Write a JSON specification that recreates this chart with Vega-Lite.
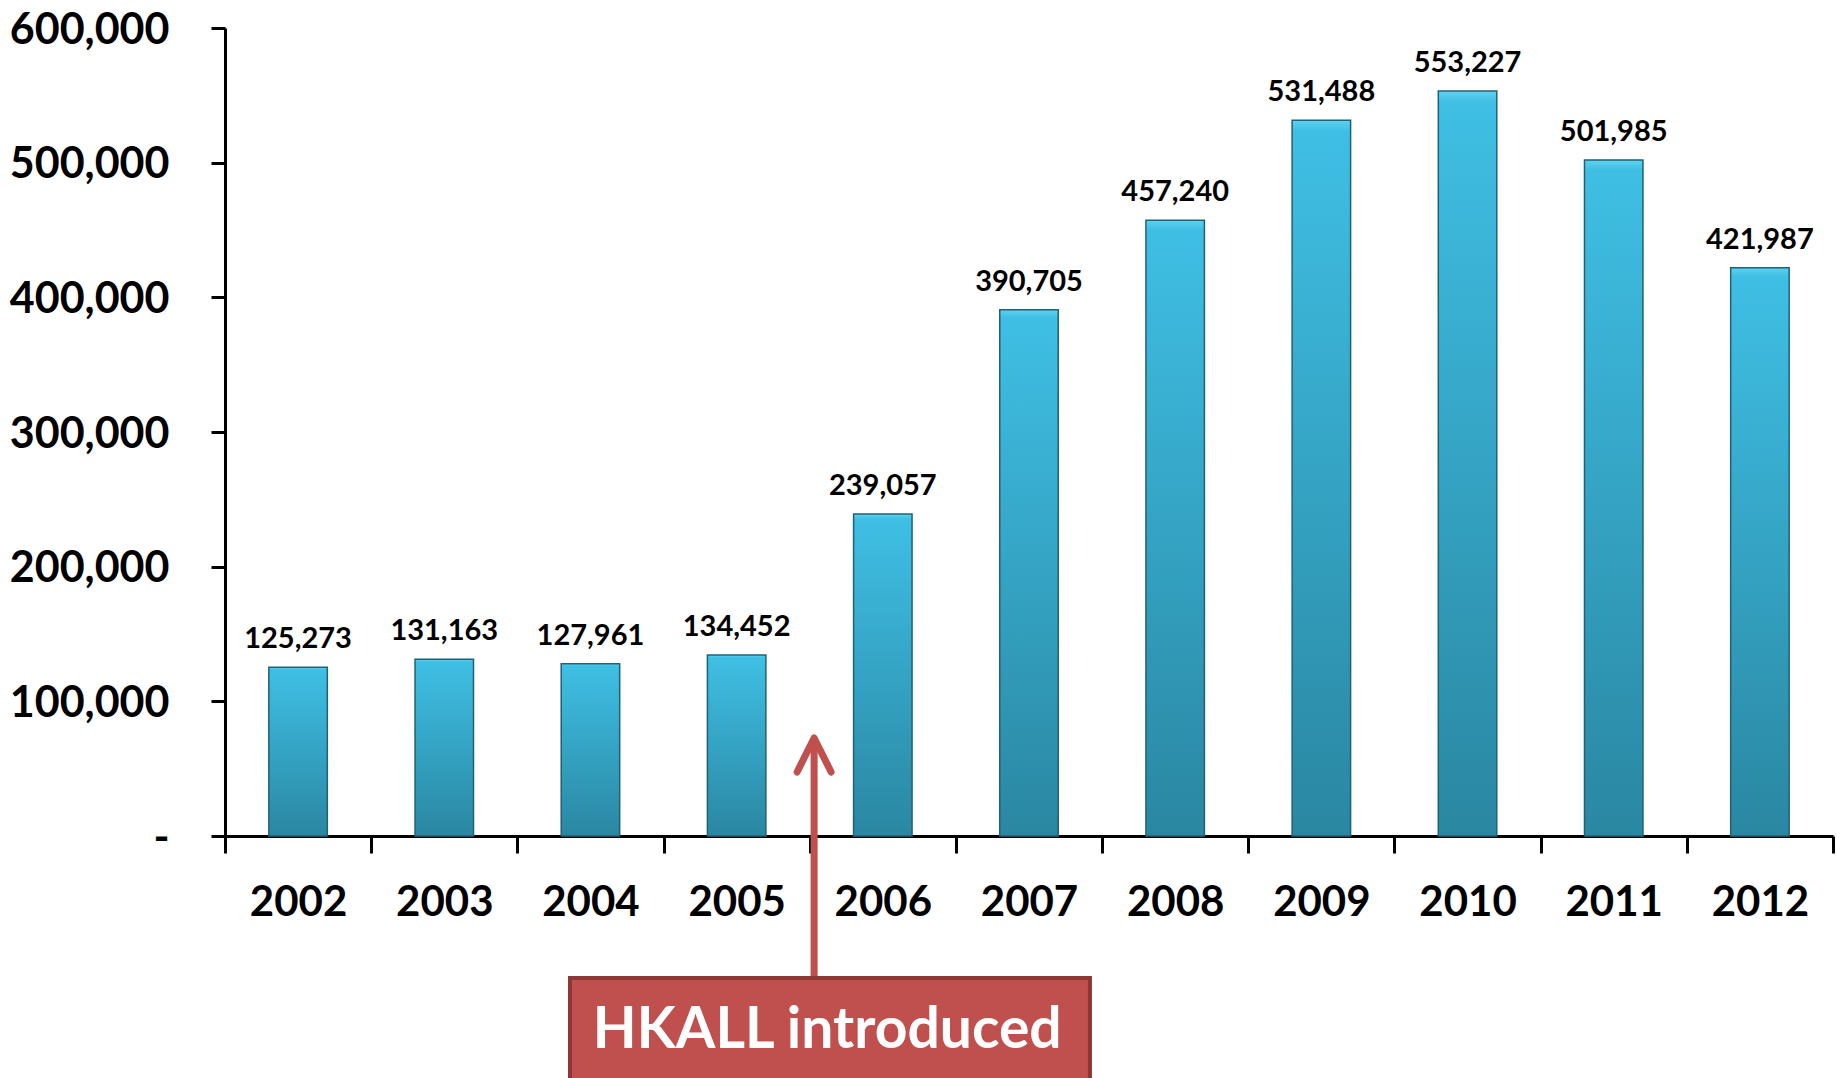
{
  "$schema": "https://vega.github.io/schema/vega-lite/v6.json",
  "width": 1608,
  "height": 808,
  "autosize": {"type": "none"},
  "padding": {"left": 225, "top": 28, "right": 4, "bottom": 242},
  "background": "white",
  "config": {"view": {"stroke": null}, "font": "Lato"},
  "data": {
    "values": [
      {"year": "2002", "visitors": 125273},
      {"year": "2003", "visitors": 131163},
      {"year": "2004", "visitors": 127961},
      {"year": "2005", "visitors": 134452},
      {"year": "2006", "visitors": 239057},
      {"year": "2007", "visitors": 390705},
      {"year": "2008", "visitors": 457240},
      {"year": "2009", "visitors": 531488},
      {"year": "2010", "visitors": 553227},
      {"year": "2011", "visitors": 501985},
      {"year": "2012", "visitors": 421987}
    ]
  },
  "layer": [
    {
      "mark": {
        "type": "bar",
        "width": {"band": 0.4},
        "color": {
          "gradient": "linear",
          "x1": 0, "y1": 0, "x2": 0, "y2": 1,
          "stops": [
            {"offset": 0, "color": "#5fd2f0"},
            {"offset": 0.015, "color": "#3fbfe4"},
            {"offset": 1, "color": "#2a87a2"}
          ]
        },
        "stroke": "#1f6276",
        "strokeWidth": 1.5
      },
      "encoding": {
        "x": {
          "field": "year",
          "type": "nominal",
          "title": null,
          "scale": {
            "domain": ["2002", "2003", "2004", "2005", "2006", "2007", "2008", "2009", "2010", "2011", "2012"],
            "paddingInner": 0,
            "paddingOuter": 0
          },
          "axis": {
            "domainColor": "black",
            "domainWidth": 3,
            "tickColor": "black",
            "tickWidth": 3,
            "tickSize": 17,
            "tickBand": "extent",
            "labelFont": "Lato",
            "labelFontWeight": "bold",
            "labelFontSize": 42,
            "labelColor": "black",
            "labelBaseline": "alphabetic",
            "labelPadding": 62,
            "labelAngle": 0,
            "grid": false
          }
        },
        "y": {
          "field": "visitors",
          "type": "quantitative",
          "title": null,
          "scale": {"domain": [0, 600000], "nice": false},
          "axis": {
            "values": [0, 100000, 200000, 300000, 400000, 500000, 600000],
            "domainColor": "black",
            "domainWidth": 3,
            "tickColor": "black",
            "tickWidth": 3,
            "tickSize": 14,
            "labelFont": "Lato",
            "labelFontWeight": "bold",
            "labelFontSize": 43,
            "labelColor": "black",
            "labelPadding": 42,
            "labelBaseline": "alphabetic",
            "labelOffset": 15,
            "grid": false,
            "labelExpr": "datum.value === 0 ? '-\u2003' : format(datum.value, ',')"
          }
        }
      }
    },
    {
      "mark": {
        "type": "text",
        "font": "Lato",
        "fontWeight": "bold",
        "fontSize": 29,
        "baseline": "alphabetic",
        "dy": -19,
        "color": "black"
      },
      "encoding": {
        "x": {"field": "year", "type": "nominal"},
        "y": {"field": "visitors", "type": "quantitative"},
        "text": {"field": "visitors", "type": "quantitative", "format": ","}
      }
    },
    {
      "data": {"values": [{"after": "2005", "from": "2004", "to": "2007", "label": "HKALL introduced"}]},
      "layer": [
        {
          "mark": {"type": "rule", "color": "#c0504d", "strokeWidth": 7},
          "encoding": {
            "x": {"field": "after", "type": "nominal", "bandPosition": 1.03},
            "y": {"datum": -105400},
            "y2": {"datum": 70000}
          }
        },
        {
          "mark": {
            "type": "point",
            "shape": "M -1 1 L 0 -1 L 1 1",
            "size": 1156,
            "filled": false,
            "stroke": "#c0504d",
            "strokeWidth": 7,
            "strokeCap": "round",
            "strokeJoin": "round",
            "opacity": 1
          },
          "encoding": {
            "x": {"field": "after", "type": "nominal", "bandPosition": 1.03},
            "y": {"datum": 60150}
          }
        },
        {
          "mark": {"type": "rect", "fill": "#c0504d", "stroke": "#8c3836", "strokeWidth": 4},
          "encoding": {
            "x": {"field": "from", "type": "nominal", "bandPosition": 0.36},
            "x2": {"field": "to", "bandPosition": 0.917},
            "y": {"datum": -105400},
            "y2": {"datum": -200000}
          }
        },
        {
          "mark": {
            "type": "text",
            "color": "white",
            "font": "Lato",
            "fontWeight": "bold",
            "fontSize": 57,
            "baseline": "alphabetic"
          },
          "encoding": {
            "x": {"field": "after", "type": "nominal", "bandPosition": 1.12},
            "y": {"datum": -157400},
            "text": {"field": "label"}
          }
        }
      ]
    }
  ]
}
